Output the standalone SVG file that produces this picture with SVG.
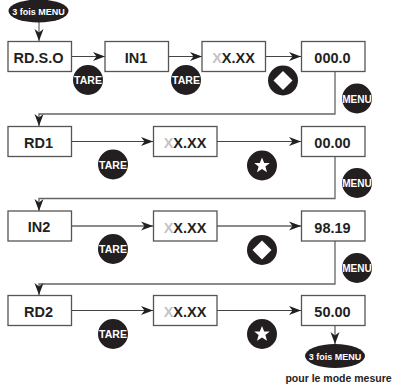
<svg xmlns="http://www.w3.org/2000/svg" width="395" height="388" viewBox="0 0 395 388">
<defs>
<path id="ah" d="M0 0L-12 -4.500L-8.500 0L-12 4.500Z" fill="#231f20"/>
<path id="sd" d="M0 -9.500L9.500 0L0 9.500L-9.500 0Z" fill="#fff"/>
<path id="st" d="M0 -8L2.200 -2.600L7.800 -2.500L3.400 1L5 6.700L0 3.400L-5 6.700L-3.400 1L-7.800 -2.500L-2.200 -2.600Z" fill="#fff"/>
</defs>
<style>
text{font-family:"Liberation Sans",Arial,sans-serif;font-weight:700;text-anchor:middle;fill:#231f20}
.b{fill:#fff;stroke:#555;stroke-width:1.300}
.big{font-size:14.500px}
.c{fill:#fff;font-size:10.500px}
.e{fill:#fff;font-size:9px}
.g{fill:#c4c4c4}
.l{fill:none;stroke:#444;stroke-width:1}
.l2{fill:none;stroke:#666;stroke-width:1.300}
.d{fill:#231f20}
</style>
<rect width="395" height="388" fill="#fff"/>
<g id="connectors">
<path class="l" d="M39 22V41M71.500 56.500H105M168.500 56.500H202M265.500 56.500H301"/>
<path class="l2" d="M335 72V114H39V126"/>
<path class="l" d="M71.500 141.500H153M217 141.500H301"/>
<path class="l2" d="M335 156V198.500H39V211"/>
<path class="l2" d="M71.500 226H153M217 226H301"/>
<path class="l2" d="M335 241V284H39V295"/>
<path class="l" d="M71.500 310.500H153M217 310.500H301"/>
<path class="l2" d="M335 325V345"/>
<use href="#ah" transform="translate(39 41) rotate(90)"/>
<use href="#ah" transform="translate(105 56.500)"/>
<use href="#ah" transform="translate(202 56.500)"/>
<use href="#ah" transform="translate(301 56.500)"/>
<use href="#ah" transform="translate(39 126) rotate(90)"/>
<use href="#ah" transform="translate(153 141.500)"/>
<use href="#ah" transform="translate(301 141.500)"/>
<use href="#ah" transform="translate(39 211) rotate(90)"/>
<use href="#ah" transform="translate(153 226)"/>
<use href="#ah" transform="translate(301 226)"/>
<use href="#ah" transform="translate(39 295) rotate(90)"/>
<use href="#ah" transform="translate(153 310.500)"/>
<use href="#ah" transform="translate(301 310.500)"/>
<use href="#ah" transform="translate(335 344) rotate(90)"/>
</g>
<g id="start"><ellipse class="d" cx="38.500" cy="11" rx="30" ry="11.500"/><text class="e" x="38.500" y="14.500" style="fill:#fff">3 fois MENU</text></g>
<g id="n-rdso"><rect class="b" x="8" y="41.500" width="63.500" height="30"/><text class="big" x="38.500" y="62.500">RD.S.O</text></g>
<g id="n-in1"><rect class="b" x="105" y="41.500" width="63.500" height="30"/><text class="big" x="136" y="62.500">IN1</text></g>
<g id="n-xx1"><rect class="b" x="202" y="41.500" width="63.500" height="30"/><text class="big" x="233.500" y="63"><tspan class="g">X</tspan>X.XX</text></g>
<g id="n-000"><rect class="b" x="301.500" y="41.500" width="63.500" height="30"/><text class="big" x="332.500" y="63">000.0</text></g>
<g id="n-rd1"><rect class="b" x="8" y="126.500" width="63.500" height="30"/><text class="big" x="38.500" y="147.500">RD1</text></g>
<g id="n-xx2"><rect class="b" x="153.500" y="126.500" width="63.500" height="30"/><text class="big" x="185" y="148"><tspan class="g">X</tspan>X.XX</text></g>
<g id="n-0000"><rect class="b" x="301.500" y="126.500" width="63.500" height="30"/><text class="big" x="332.500" y="148">00.00</text></g>
<g id="n-in2"><rect class="b" x="8" y="211" width="63.500" height="30"/><text class="big" x="39" y="232">IN2</text></g>
<g id="n-xx3"><rect class="b" x="153.500" y="211" width="63.500" height="30"/><text class="big" x="185" y="232.500"><tspan class="g">X</tspan>X.XX</text></g>
<g id="n-9819"><rect class="b" x="301.500" y="211" width="63.500" height="30"/><text class="big" x="332.500" y="232.500">98.19</text></g>
<g id="n-rd2"><rect class="b" x="8" y="295.500" width="63.500" height="30"/><text class="big" x="38.500" y="316.500">RD2</text></g>
<g id="n-xx4"><rect class="b" x="153.500" y="295.500" width="63.500" height="30"/><text class="big" x="185" y="317"><tspan class="g">X</tspan>X.XX</text></g>
<g id="n-5000"><rect class="b" x="301.500" y="295.500" width="63.500" height="30"/><text class="big" x="332.500" y="317">50.00</text></g>
<g id="t1"><circle class="d" cx="88" cy="80" r="15"/><text class="c" x="88" y="84">TARE</text></g>
<g id="t2"><circle class="d" cx="186" cy="80" r="15"/><text class="c" x="186" y="84">TARE</text></g>
<g id="t3"><circle class="d" cx="113" cy="164.500" r="15"/><text class="c" x="113" y="168.500">TARE</text></g>
<g id="t4"><circle class="d" cx="113" cy="249" r="15"/><text class="c" x="113" y="253">TARE</text></g>
<g id="t5"><circle class="d" cx="113" cy="334" r="15"/><text class="c" x="113" y="338">TARE</text></g>
<g id="k1"><circle class="d" cx="283" cy="80.500" r="15"/><use href="#sd" x="283" y="80.500"/></g>
<g id="k2"><circle class="d" cx="262" cy="165.500" r="15"/><use href="#st" x="262" y="165.500"/></g>
<g id="k3"><circle class="d" cx="262" cy="250" r="15"/><use href="#sd" x="262" y="250"/></g>
<g id="k4"><circle class="d" cx="262" cy="334" r="15"/><use href="#st" x="262" y="334"/></g>
<g id="m1"><circle class="d" cx="357" cy="98.500" r="15"/><text class="c" x="357" y="102.500" style="font-size:10px">MENU</text></g>
<g id="m2"><circle class="d" cx="357" cy="183" r="15"/><text class="c" x="357" y="187" style="font-size:10px">MENU</text></g>
<g id="m3"><circle class="d" cx="357" cy="268" r="15"/><text class="c" x="357" y="272" style="font-size:10px">MENU</text></g>
<g id="end"><ellipse class="d" cx="335" cy="356" rx="30" ry="12"/><text class="e" x="335" y="359.500" style="fill:#fff">3 fois MENU</text></g>
<g id="note"><text x="338.500" y="382" style="font-size:10.500px">pour le mode mesure</text></g>
</svg>
